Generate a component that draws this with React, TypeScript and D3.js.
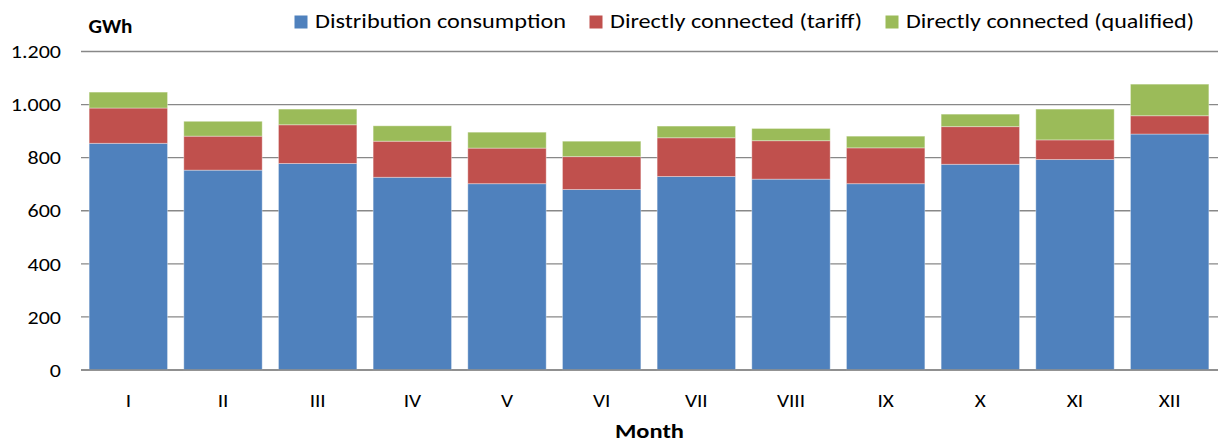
import React from "react";
import * as d3 from "d3";

const months = ["I", "II", "III", "IV", "V", "VI", "VII", "VIII", "IX", "X", "XI", "XII"];
const distribution = [854, 753, 778, 726, 702, 680, 729, 719, 702, 775, 793, 889];
const tariff = [133, 128, 146, 136, 134, 124, 146, 145, 135, 142, 74, 69];
const qualified = [60, 56, 59, 58, 60, 58, 44, 46, 44, 47, 116, 119];
const seriesNames = ["Distribution consumption", "Directly connected (tariff)", "Directly connected (qualified)"];
const seriesColors = ["#4F81BD", "#C0504D", "#9BBB59"];
const yTicks = [0, 200, 400, 600, 800, 1000, 1200];

const W = 1218, H = 443;
const left = 81, right = 1217, top = 51.5, bottom = 370;
const FONT = "Carlito, Calibri, Lato, 'Open Sans', sans-serif";

function T({ x, y, sx = 1, anchor = "start", size = 18, weight = "normal", children }: any) {
  return (
    <text transform={`translate(${x},${y}) scale(${sx},1)`} textAnchor={anchor} fontSize={size} fontWeight={weight} fill="#000">
      {children}
    </text>
  );
}

export default function App() {
  const x = d3.scaleBand<string>().domain(months).range([left, right]).paddingInner(0.172).paddingOuter(0.086);
  const y = d3.scaleLinear().domain([0, 1200]).range([bottom, top]);
  const rows = months.map((m, i) => ({ month: m, d: distribution[i], t: tariff[i], q: qualified[i] }));
  const stack = d3.stack<any>().keys(["d", "t", "q"])(rows);
  const fmt = (v: number) => d3.format(",")(v).replace(/,/g, ".");

  const legendItems = [
    { x: 294.5, tx: 315, len: 251 },
    { x: 589.5, tx: 610, len: 252 },
    { x: 885.5, tx: 906, len: 288 },
  ];

  return (
    <svg width={W} height={H} style={{ position: "absolute", left: 0, top: 0, background: "#fff" }} fontFamily={FONT}>
      {yTicks.map((t) => (
        <g key={t}>
          <line x1={left} x2={right + 1} y1={y(t)} y2={y(t)} stroke="#888" strokeWidth={1.3} />
          <T x={61} y={y(t) + 6.7} sx={1.19} anchor="end" size={18.5}>{fmt(t)}</T>
        </g>
      ))}
      {stack.map((s, si) => (
        <g key={si}>
          {s.map((seg, i) => (
            <rect key={i} x={x(months[i])!} width={x.bandwidth()} y={y(seg[1])} height={y(seg[0]) - y(seg[1])}
              fill={seriesColors[si]} stroke="rgba(255,255,255,0.35)" strokeWidth={1} />
          ))}
        </g>
      ))}
      <line x1={left} x2={right + 1} y1={bottom} y2={bottom} stroke="#888" strokeWidth={1.3} />
      {months.map((m) => (
        <T key={m} x={x(m)! + x.bandwidth() / 2} y={406.7} sx={1.15} anchor="middle" size={18.5}>{m}</T>
      ))}
      <text x={649.5} y={438} textAnchor="middle" fontSize={20} fontWeight="bold" fill="#000" textLength={69} lengthAdjust="spacingAndGlyphs">Month</text>
      <text x={88.5} y={33} fontSize={19.5} fontWeight="bold" fill="#000" textLength={44} lengthAdjust="spacingAndGlyphs">GWh</text>
      {legendItems.map((l, i) => (
        <g key={i}>
          <rect x={l.x} y={15.5} width={13} height={13} fill={seriesColors[i]} />
          <text x={l.tx} y={28.3} fontSize={19.5} fill="#000" textLength={l.len} lengthAdjust="spacingAndGlyphs">{seriesNames[i]}</text>
        </g>
      ))}
    </svg>
  );
}
